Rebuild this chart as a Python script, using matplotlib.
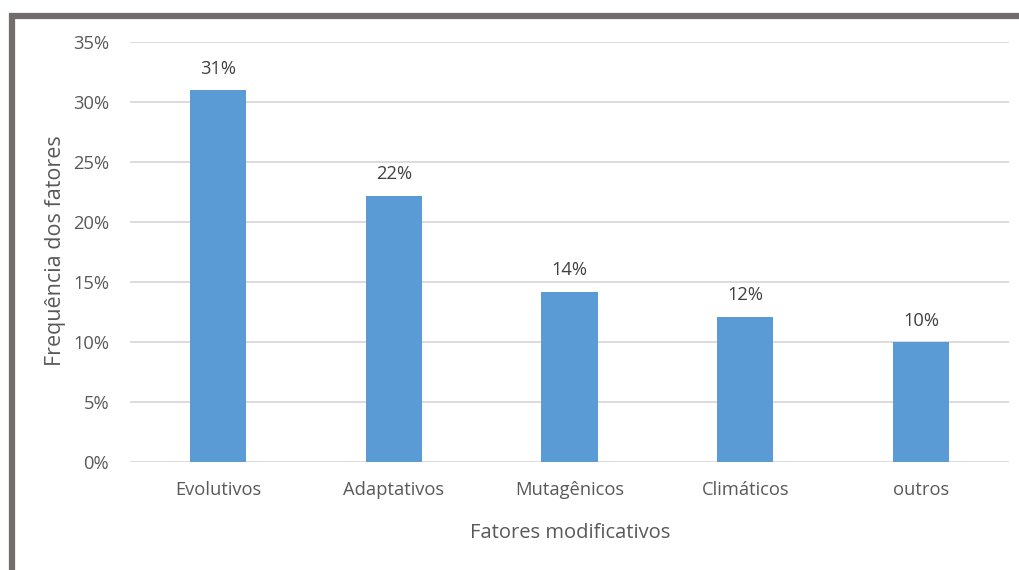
import matplotlib.pyplot as plt
from matplotlib.lines import Line2D

categories = ["Evolutivos", "Adaptativos", "Mutagênicos", "Climáticos", "outros"]
values = [0.31, 0.222, 0.142, 0.121, 0.10]
labels = ["31%", "22%", "14%", "12%", "10%"]
yticks = [0, 0.05, 0.10, 0.15, 0.20, 0.25, 0.30, 0.35]
ytick_labels = ["0%", "5%", "10%", "15%", "20%", "25%", "30%", "35%"]

plt.rcParams['font.family'] = ['Open Sans', 'DejaVu Sans']
W, H = 1019, 570
fig = plt.figure(figsize=(W / 100, H / 100), dpi=100)
fig.patch.set_facecolor('white')

ax = fig.add_axes([130 / W, 1 - 462 / H, (1009 - 130) / W, (462 - 42) / H])
x = range(len(categories))
ax.bar(x, values, width=0.32, color='#5b9bd5', zorder=3)
ax.set_xlim(-0.5, len(categories) - 0.5)
ax.set_ylim(0, 0.35)
ax.set_yticks(yticks)
ax.set_yticklabels(ytick_labels)
ax.set_xticks(list(x))
ax.set_xticklabels(categories)
ax.tick_params(axis='both', length=0, labelsize=13.2, colors='#595959')
ax.tick_params(axis='y', pad=15)
ax.tick_params(axis='x', pad=14)
ax.grid(axis='y', color='#d9d9d9', linewidth=1.3, zorder=0)
for s in ax.spines.values():
    s.set_visible(False)
for i, (v, lab) in enumerate(zip(values, labels)):
    ax.annotate(lab, (i, v), xytext=(0, 9), textcoords='offset points',
                ha='center', va='bottom', fontsize=13.2, color='#404040')

fig.text(570 / W, 1 - 533 / H, "Fatores modificativos", ha='center', va='center',
         fontsize=14.5, color='#595959')
fig.text(55 / W, 1 - 251 / H, "Frequência dos fatores", ha='center', va='center',
         rotation=90, fontsize=15.5, color='#595959')

# outer frame (top and left gray border)
fig.add_artist(Line2D([9 / W, 1], [1 - 16 / H, 1 - 16 / H], transform=fig.transFigure,
                      color='#726d6c', linewidth=4.5, solid_capstyle='butt'))
fig.add_artist(Line2D([12 / W, 12 / W], [0, 1 - 13.5 / H], transform=fig.transFigure,
                      color='#726d6c', linewidth=4.5, solid_capstyle='butt'))

fig.savefig('out.png', dpi=100)
